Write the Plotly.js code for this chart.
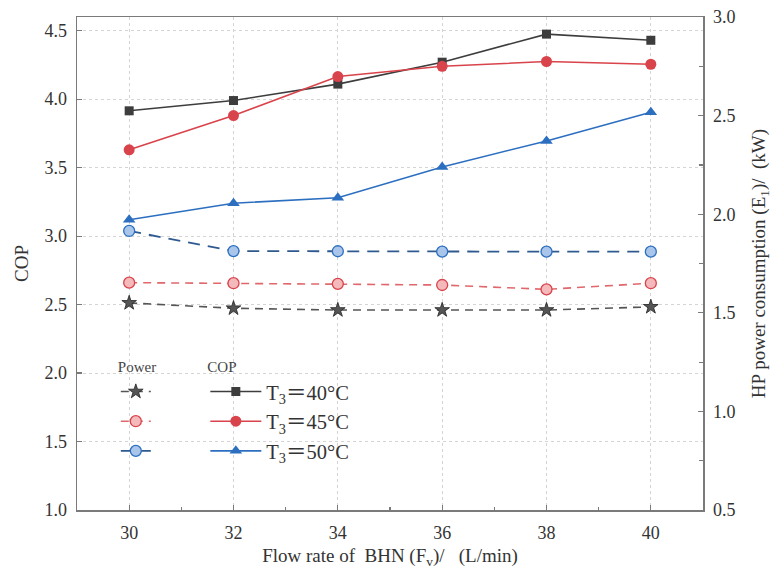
<!DOCTYPE html>
<html>
<head>
<meta charset="utf-8">
<script src="https://cdn.plot.ly/plotly-3.0.1.min.js"></script>
<style>
html,body{margin:0;padding:0;background:#fff;}
#chart{width:774px;height:577px;}
</style>
</head>
<body>
<div id="chart"></div>
<script>
// Flow rate of BHN (L/min)
const flowRate = [30, 32, 34, 36, 38, 40];

// COP (left axis)
const cop40 = [3.915, 3.99, 4.11, 4.27, 4.475, 4.43];
const cop45 = [3.63, 3.88, 4.165, 4.24, 4.275, 4.255];
const cop50 = [3.12, 3.24, 3.28, 3.505, 3.695, 3.905];

// HP power consumption (kW, right axis)
const pow40 = [1.55, 1.523, 1.514, 1.514, 1.514, 1.53];
const pow45 = [1.653, 1.65, 1.647, 1.641, 1.619, 1.65];
const pow50 = [1.915, 1.813, 1.812, 1.81, 1.81, 1.81];

const copNames = ['T<sub>3</sub>\uFF1D40°C', 'T<sub>3</sub>\uFF1D45°C', 'T<sub>3</sub>\uFF1D50°C'];

const cBlack = '#3d3d3d', cRed = '#d9434b', cBlue = '#2c6fc0';
const serif = 'Liberation Serif, Times New Roman, Noto Sans CJK SC, serif';

const traces = [
  {x: flowRate, y: pow40, yaxis: 'y2', name: '\u00a0', legend: 'legend', mode: 'lines+markers',
   line: {color: '#555555', width: 1.6, dash: '8px,6px'},
   marker: {symbol: 'star', size: 11, color: '#555555', line: {color: '#222', width: 0.8}}},
  {x: flowRate, y: pow45, yaxis: 'y2', name: '\u00a0', legend: 'legend', mode: 'lines+markers',
   line: {color: '#e0676c', width: 1.6, dash: '8px,6px'},
   marker: {symbol: 'circle', size: 11, color: '#f4b9bb', line: {color: '#d9434b', width: 1.3}}},
  {x: flowRate, y: pow50, yaxis: 'y2', name: '\u00a0', legend: 'legend', mode: 'lines+markers',
   line: {color: '#2f5a8f', width: 1.8, dash: '12px,8px'},
   marker: {symbol: 'circle', size: 11, color: '#a9c6ea', line: {color: '#2c6fc0', width: 1.3}}},
  {x: flowRate, y: cop40, name: copNames[0], legend: 'legend2', mode: 'lines+markers',
   line: {color: cBlack, width: 1.6}, marker: {symbol: 'square', size: 9, color: cBlack}},
  {x: flowRate, y: cop45, name: copNames[1], legend: 'legend2', mode: 'lines+markers',
   line: {color: cRed, width: 1.6}, marker: {symbol: 'circle', size: 11, color: cRed}},
  {x: flowRate, y: cop50, name: copNames[2], legend: 'legend2', mode: 'lines+markers',
   line: {color: cBlue, width: 1.6}, marker: {symbol: 'triangle-up', size: 11, color: cBlue}}
];

const axisCommon = {
  showline: true, linecolor: '#7a7a7a', linewidth: 1.5,
  ticks: 'inside', ticklen: 5, tickcolor: '#7a7a7a', tickwidth: 1.2,
  zeroline: false, tickfont: {family: serif, size: 18, color: '#333'}
};

const layout = {
  width: 774, height: 577,
  margin: {l: 77, r: 71, t: 17, b: 67},
  paper_bgcolor: '#ffffff', plot_bgcolor: '#ffffff',
  font: {family: serif, color: '#333'},
  showlegend: true,
  xaxis: Object.assign({}, axisCommon, {
    range: [29, 41], tick0: 30, dtick: 2, mirror: true,
    showgrid: true, gridcolor: '#d4d4d4', griddash: 'dot', gridwidth: 1,
    minor: {dtick: 1, tick0: 29, ticks: 'inside', ticklen: 3, tickcolor: '#7a7a7a', showgrid: false},
    ticklabelstandoff: 6,
    title: {text: 'Flow rate of\u00a0 BHN (F<sub>v</sub>)/\u00a0\u00a0 (L/min)', font: {family: serif, size: 19, color: '#333'}, standoff: 6}
  }),
  yaxis: Object.assign({}, axisCommon, {
    range: [1, 4.6], tick0: 1, dtick: 0.5, tickformat: '.1f',
    showgrid: true, gridcolor: '#d4d4d4', griddash: 'dot', gridwidth: 1,
    ticklabelstandoff: 5,
    title: {text: 'COP', font: {family: serif, size: 19, color: '#333'}, standoff: 11}
  }),
  yaxis2: Object.assign({}, axisCommon, {
    overlaying: 'y', side: 'right', anchor: 'x',
    range: [0.5, 3.0], tick0: 0.5, dtick: 0.5, tickformat: '.1f',
    showgrid: false,
    minor: {dtick: 0.25, tick0: 0.5, ticks: 'inside', ticklen: 4, tickcolor: '#7a7a7a', showgrid: false},
    ticklabelstandoff: 5,
    title: {text: 'HP power consumption (E<sub>1</sub>)/\u00a0 (kW)', font: {family: serif, size: 19, color: '#333'}, standoff: 17}
  }),
  legend: {
    x: 0.062, y: 0.32, xanchor: 'left', yanchor: 'top',
    bgcolor: 'rgba(0,0,0,0)', borderwidth: 0,
    title: {text: 'Power', font: {family: serif, size: 15, color: '#444'}},
    font: {family: serif, size: 20.5, color: '#333'}, itemwidth: 30
  },
  legend2: {
    x: 0.205, y: 0.32, xanchor: 'left', yanchor: 'top',
    bgcolor: 'rgba(0,0,0,0)', borderwidth: 0,
    title: {text: 'COP', font: {family: serif, size: 15, color: '#444'}},
    font: {family: serif, size: 20.5, color: '#333'}, itemwidth: 51
  }
};

Plotly.newPlot('chart', traces, layout, {displayModeBar: false, staticPlot: true});
</script>
</body>
</html>
